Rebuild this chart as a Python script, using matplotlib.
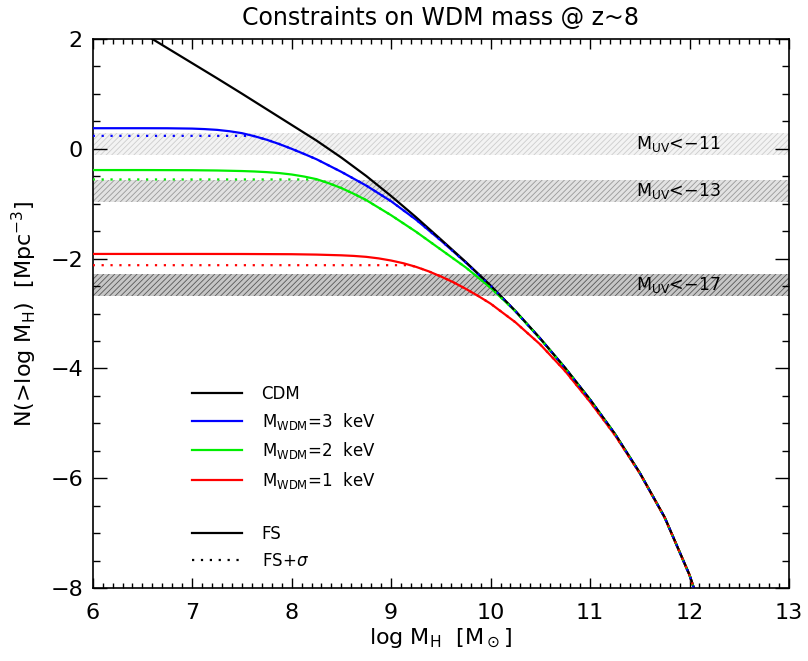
import numpy as np
import matplotlib
matplotlib.use("Agg")
import matplotlib.pyplot as plt
from matplotlib.lines import Line2D
from matplotlib.ticker import MultipleLocator

plt.rcParams['font.family'] = ['DejaVu Sans']
plt.rcParams['hatch.linewidth'] = 0.6

# --- data ---
cdm_x = [6.55, 6.75, 7.0, 7.25, 7.5, 7.75, 8.0, 8.25, 8.5, 8.75, 9.0, 9.25, 9.5, 9.75,
         10.0, 10.25, 10.5, 10.75, 11.0, 11.25, 11.5, 11.75, 12.0, 12.1]
cdm_y = [2.055, 1.835, 1.56, 1.285, 1.005, 0.72, 0.435, 0.15, -0.16, -0.495, -0.86, -1.245, -1.65, -2.06,
         -2.49, -2.955, -3.455, -3.99, -4.565, -5.19, -5.90, -6.71, -7.76, -8.31]

# 3 keV
wdm3_x = [6.0, 6.5, 6.75, 7.0, 7.125, 7.25, 7.375, 7.5, 7.625, 7.75, 7.875, 8.0, 8.125, 8.25,
          8.5, 8.75, 9.0, 9.25, 9.5, 9.75, 10.0, 10.25, 10.5, 10.75, 11.0, 11.25, 11.5, 11.75,
          12.0, 12.1]
wdm3_y = [0.375, 0.375, 0.374, 0.368, 0.359, 0.345, 0.32, 0.285, 0.23, 0.165, 0.087, 0.0, -0.093,
          -0.19, -0.42, -0.67, -0.955, -1.29, -1.67, -2.07, -2.495, -2.96, -3.46, -3.995, -4.57,
          -5.195, -5.905, -6.715, -7.765, -8.315]

# 2 keV
wdm2_x = [6.0, 6.5, 7.0, 7.25, 7.5, 7.625, 7.75, 7.875, 8.0, 8.125, 8.25, 8.375, 8.5, 8.625,
          8.75, 9.0, 9.25, 9.5, 9.75, 10.0, 10.25, 10.5, 10.75, 11.0, 11.25, 11.5, 11.75, 12.0, 12.1]
wdm2_y = [-0.387, -0.387, -0.39, -0.395, -0.405, -0.413, -0.425, -0.442, -0.468, -0.505, -0.553,
          -0.628, -0.715, -0.82, -0.935, -1.21, -1.51, -1.835, -2.16, -2.53, -2.96, -3.46, -3.995,
          -4.57, -5.195, -5.905, -6.715, -7.765, -8.315]

# 1 keV
wdm1_x = [6.0, 7.0, 7.5, 8.0, 8.25, 8.5, 8.625, 8.75, 8.875, 9.0, 9.125, 9.25, 9.375, 9.5,
          9.625, 9.75, 9.875, 10.0, 10.25, 10.5, 10.75, 11.0, 11.25, 11.5, 11.75, 12.0, 12.1]
wdm1_y = [-1.915, -1.915, -1.916, -1.92, -1.927, -1.94, -1.951, -1.968, -1.996, -2.035, -2.085,
          -2.15, -2.23, -2.325, -2.43, -2.55, -2.68, -2.82, -3.16, -3.565, -4.05, -4.61, -5.215,
          -5.91, -6.715, -7.765, -8.315]

# FS+sigma plateaus and where they join the FS curve
sig_level = {'3': 0.236, '2': -0.558, '1': -2.12}
sig_join = {'3': 7.60, '2': 8.26, '1': 9.185}

# Muv limit bands
band_lo = [-0.12, -0.96, -2.68]
band_hi = [0.28, -0.56, -2.28]
band_labels = ['M$_{\\rm UV}$<\u221211', 'M$_{\\rm UV}$<\u221213', 'M$_{\\rm UV}$<\u221217']
band_face = ['#f3f3f3', '#e2e2e2', '#c6c6c6']
band_hatch = ['#cdcdcd', '#999999', '#585858']


fig = plt.figure(figsize=(8.08, 6.61), dpi=100)
ax = fig.add_axes([0.1147, 0.1104, 0.8618, 0.8306])

for lo, hi, fc, hc, lab in zip(band_lo, band_hi, band_face, band_hatch, band_labels):
    ax.fill_between([6, 13], [lo, lo], [hi, hi], facecolor=fc, edgecolor=hc,
                    hatch='//////', linewidth=0, zorder=1)
    ax.text(11.89, (lo + hi) / 2, lab, ha='center', va='center', fontsize=12.5, zorder=5)

curves = [('3', wdm3_x, wdm3_y, '#0000ff'),
          ('2', wdm2_x, wdm2_y, '#00ee00'),
          ('1', wdm1_x, wdm1_y, '#ff0000')]

for key, xs, ys, col in curves:
    ax.plot(xs, ys, color=col, lw=1.6, zorder=3)
ax.plot(cdm_x, cdm_y, color='k', lw=1.6, zorder=3.5)

for key, xs, ys, col in curves:
    xs = np.array(xs)
    ys = np.array(ys)
    keep = xs > sig_join[key]
    dx = np.concatenate([[6.0, sig_join[key]], xs[keep]])
    dy = np.concatenate([[sig_level[key], sig_level[key]], ys[keep]])
    ax.plot(dx, dy, color=col, lw=1.6, ls=(0, (1, 3)), zorder=4)

ax.set_xlim(6, 13)
ax.set_ylim(-8, 2)
ax.xaxis.set_major_locator(MultipleLocator(1))
ax.xaxis.set_minor_locator(MultipleLocator(0.1))
ax.yaxis.set_major_locator(MultipleLocator(2))
ax.yaxis.set_minor_locator(MultipleLocator(0.5))
ax.tick_params(which='both', direction='in', top=True, right=True, width=1.0)
ax.tick_params(axis='x', which='major', length=7.2, pad=11, labelsize=16)
ax.tick_params(axis='x', which='minor', length=3.6)
ax.tick_params(axis='y', which='major', length=10, pad=7, labelsize=16)
ax.tick_params(axis='y', which='minor', length=5)
for s in ax.spines.values():
    s.set_linewidth(1.2)

ax.set_xlabel('log M$_{\\rm H}$  [M$_\\odot$]', fontsize=16, labelpad=2)
ax.set_ylabel('N(>log M$_{\\rm H}$)  [Mpc$^{-3}$]', fontsize=16, labelpad=8)
ax.set_title('Constraints on WDM mass @ z~8', fontsize=17, pad=10)

handles = [Line2D([], [], color='k', lw=1.6),
           Line2D([], [], color='#0000ff', lw=1.6),
           Line2D([], [], color='#00ee00', lw=1.6),
           Line2D([], [], color='#ff0000', lw=1.6),
           Line2D([], [], color='none'),
           Line2D([], [], color='k', lw=1.6),
           Line2D([], [], color='k', lw=1.6, ls=(0, (1, 3)))]
labels = ['CDM', 'M$_{\\rm WDM}$=3  keV', 'M$_{\\rm WDM}$=2  keV', 'M$_{\\rm WDM}$=1  keV',
          ' ', 'FS', 'FS+$\\sigma$']
ax.legend(handles, labels, loc='center left', bbox_to_anchor=(0.142, 0.202),
          frameon=False, fontsize=12, handlelength=3.0, handletextpad=1.2,
          labelspacing=0.5, borderpad=0, borderaxespad=0)

fig.savefig('out.png', dpi=100)
